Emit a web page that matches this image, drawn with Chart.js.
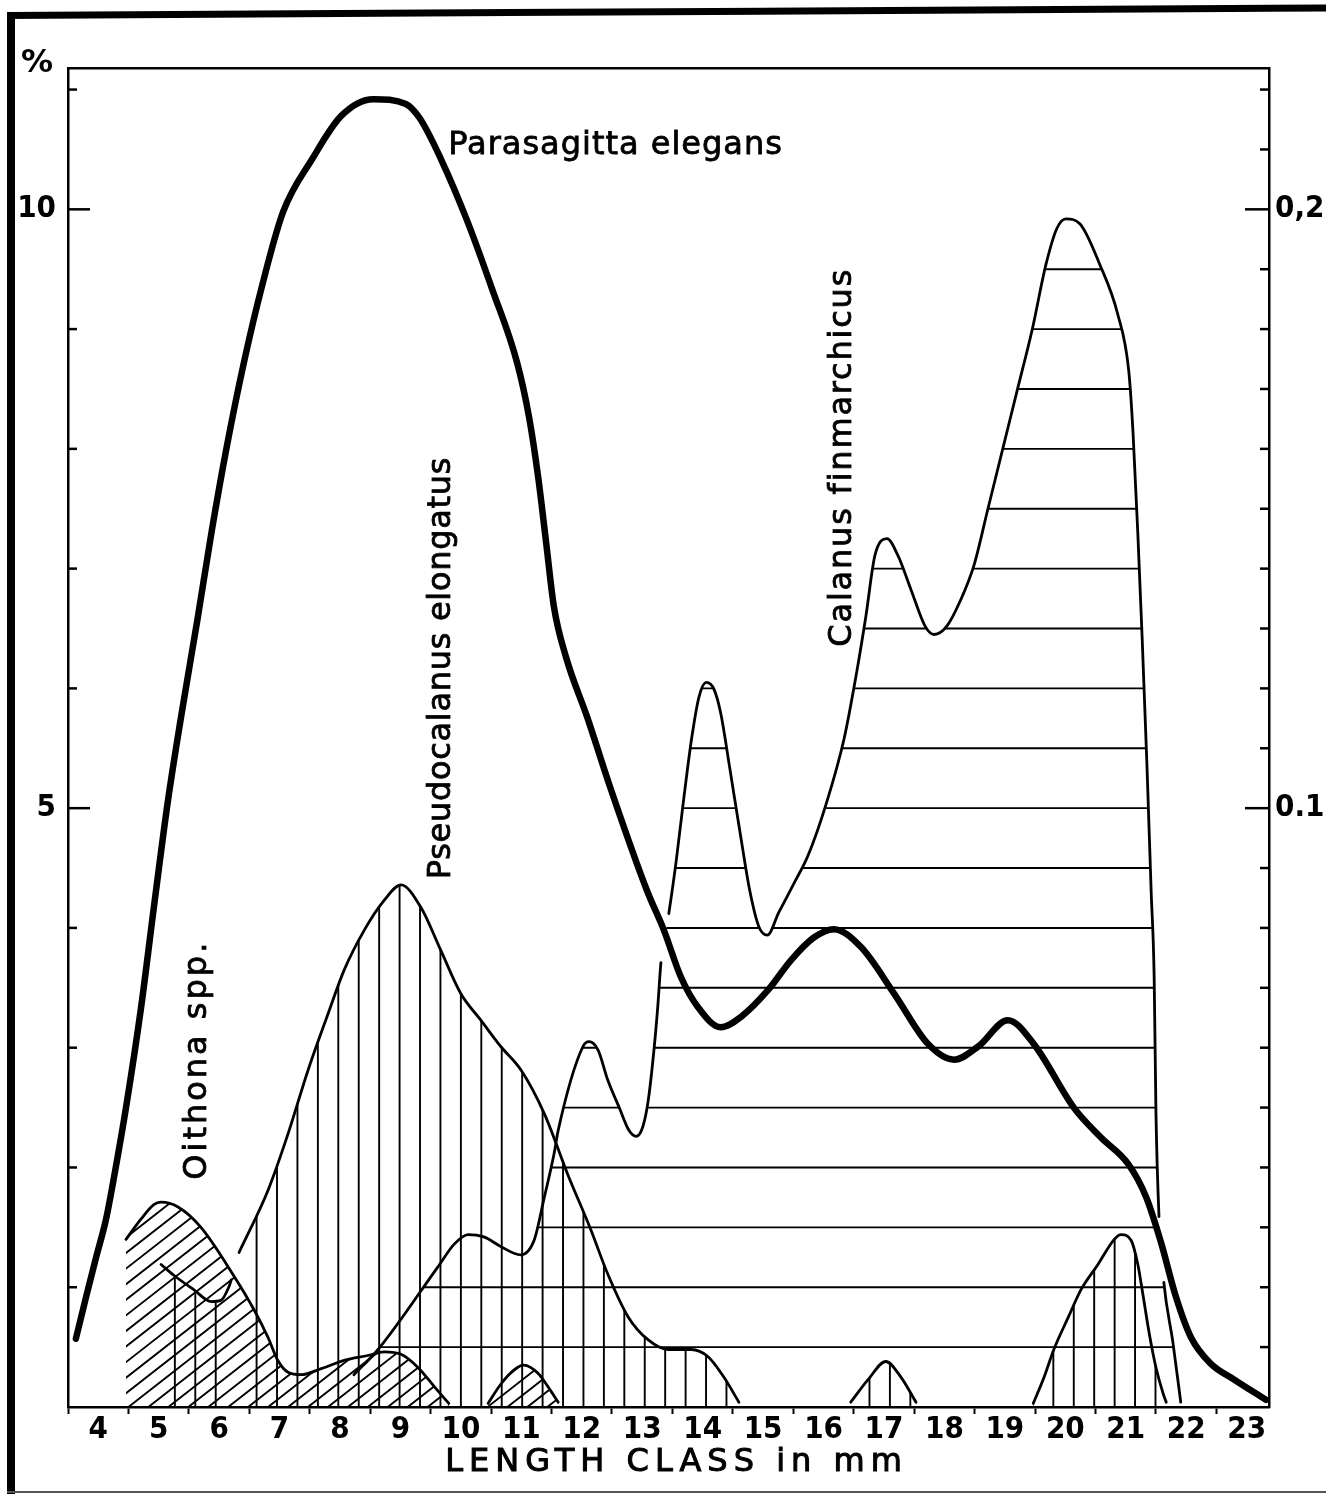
<!DOCTYPE html>
<html><head><meta charset="utf-8">
<script src="https://cdn.jsdelivr.net/npm/chart.js@4.4.1/dist/chart.umd.min.js"></script>
<style>
html,body{margin:0;padding:0;background:#fff;}
#wrap{position:relative;width:1326px;height:1495px;overflow:hidden;background:#fff;}
#c{position:absolute;left:0;top:0;}
.bl{position:absolute;background:#000;}
</style></head><body>
<div id="wrap">
<div class="bl" style="left:7px;top:12px;width:8px;height:1482px;"></div>
<div class="bl" style="left:7px;top:12px;width:1340px;height:7px;transform-origin:0 50%;transform:rotate(-0.33deg);"></div>
<div class="bl" style="left:7px;top:1491px;width:1340px;height:2px;background:#555;"></div>
<canvas id="c" width="1326" height="1495"></canvas>
</div>
<script>
// ---------- tick labels / categories ----------
const lengthClasses = [4,5,6,7,8,9,10,11,12,13,14,15,16,17,18,19,20,21,22,23];
const leftLabelValues = [5, 10];
const rightLabelValues = [0.1, 0.2];
const rightLabelTexts = ['0.1', '0,2'];
const axisTitle = 'LENGTH CLASS in mm';
const unitLabel = '%';
const speciesNames = ['Parasagitta elegans', 'Calanus finmarchicus', 'Pseudocalanus elongatus', 'Oithona spp.'];

// ---------- series (left axis, %) ----------
const parasagittaX = [3.63,3.80,3.96,4.13,4.29,4.46,4.71,4.92,5.15,5.37,5.64,5.88,6.12,6.41,6.71,7.06,7.54,8.02,8.55,9.09,9.32,9.67,10.10,10.52,10.93,11.13,11.28,11.41,11.54,11.74,12.09,12.48,13.08,13.36,13.64,13.92,14.30,14.64,15.08,15.46,15.84,16.17,16.62,17.17,17.73,18.16,18.56,19.05,19.48,20.14,20.59,21.04,21.34,21.58,21.83,22.08,22.41,22.79,23.32];
const parasagittaY = [0.57,0.92,1.24,1.57,2.00,2.50,3.34,4.17,5.05,5.76,6.57,7.32,8.00,8.72,9.36,9.98,10.42,10.78,10.92,10.88,10.76,10.42,9.91,9.33,8.72,8.26,7.76,7.22,6.68,6.26,5.76,5.16,4.31,3.98,3.59,3.34,3.17,3.26,3.48,3.73,3.92,3.99,3.84,3.45,3.03,2.90,3.01,3.23,3.03,2.50,2.25,2.03,1.75,1.38,0.92,0.58,0.36,0.23,0.06];

// Calanus finmarchicus (right axis)
const calanusX = [8.23,8.63,9.62,9.89,10.12,10.38,10.66,10.99,11.21,11.38,11.54,11.61,12.02,12.12,12.27,12.43,12.62,12.78,12.90,13.01,13.10,13.20,13.26,13.31,
  13.44,13.56,13.69,13.82,13.94,14.06,14.19,14.30,14.45,14.64,14.78,14.93,15.07,15.26,15.53,15.74,16.04,16.34,16.55,16.70,16.85,17.05,17.23,17.45,17.68,17.83,18.04,18.27,18.49,18.72,18.97,19.20,19.45,19.68,19.86,20.01,20.24,20.57,20.87,21.05,21.12,21.20,21.27,21.35,21.42,21.47,21.50,21.55,
  21.63,21.78,21.91];
const calanusY = [0.0054,0.0096,0.0234,0.0272,0.0288,0.0284,0.0268,0.0254,0.0278,0.0350,0.0422,0.0462,0.0602,0.0610,0.0596,0.0546,0.0500,0.0462,0.0452,0.0468,0.0512,0.0602,0.0672,0.0742,
  0.0824,0.0910,0.1018,0.1118,0.1186,0.1210,0.1198,0.1158,0.1066,0.0946,0.0862,0.0802,0.0788,0.0826,0.0878,0.0920,0.1006,0.1116,0.1228,0.1320,0.1422,0.1450,0.1422,0.1364,0.1304,0.1290,0.1304,0.1348,0.1406,0.1500,0.1602,0.1696,0.1798,0.1908,0.1968,0.1984,0.1976,0.1908,0.1824,0.1730,0.1628,0.1458,0.1288,0.1074,0.0862,0.0718,0.0490,0.0318,
  0.0208,0.0108,0.0008];
const calanusGapAfterX = [13.31, 21.55];

// Pseudocalanus elongatus
const pseudoMainX = [6.33,6.81,7.14,7.47,7.80,8.07,8.40,8.73,9.01,9.34,9.67,10.00,10.33,10.66,11.00,11.38,11.77,12.15,12.43,12.77,13.10,13.43,13.81,14.09,14.35,14.60];
const pseudoMainY = [1.29,1.81,2.28,2.81,3.28,3.65,3.98,4.23,4.36,4.17,3.81,3.45,3.23,3.01,2.81,2.45,1.94,1.48,1.11,0.75,0.56,0.48,0.48,0.42,0.25,0.04];
const pseudoLeftX = [5.04,5.25,5.58,5.87,6.03,6.16,6.20];
const pseudoLeftY = [1.19,1.10,0.98,0.88,0.89,1.00,1.06];
const pseudo17X = [16.45,16.74,17.03,17.28,17.53];
const pseudo17Y = [0.04,0.23,0.38,0.25,0.04];
const pseudo21X = [19.47,19.65,19.81,20.05,20.26,20.54,20.81,20.92,21.09,21.20,21.29,21.39,21.50,21.62,21.67];
const pseudo21Y = [0.03,0.25,0.48,0.75,0.98,1.19,1.40,1.44,1.39,1.19,0.92,0.61,0.33,0.11,0.04];

// Oithona spp.
const oithonaMainX = [4.46,4.71,4.92,5.04,5.32,5.70,6.25,6.58,6.81,6.97,7.14,7.36,7.69,8.07,8.46,8.73,9.01,9.29,9.56,9.80];
const oithonaMainY = [1.40,1.57,1.69,1.71,1.67,1.50,1.09,0.81,0.58,0.39,0.29,0.27,0.32,0.39,0.43,0.46,0.44,0.33,0.17,0.03];
const oithona11X = [10.45,10.66,10.88,11.04,11.28,11.44,11.61];
const oithona11Y = [0.03,0.19,0.31,0.35,0.28,0.17,0.04];

// ---------- layout / style constants ----------
const X_MIN = 3.5, X_MAX = 23.37;
const Y_MAX = 11.18, Y2_MAX = Y_MAX / 50;
const FONT = "'DejaVu Sans', sans-serif";
const TICK_FONT = "'DejaVu Sans Condensed', 'DejaVu Sans', sans-serif";
const HATCH = {
  h: {step: 0.01},
  v: {phase: 10, step: 0.338},
  d: {phase: 4.5, step: 0.33, angle: 38}
};
const labelPlacement = [
  {x: 9.79, y: 10.53, rot: 0, align: 'left', spacing: 1},
  {x: 16.32, y: 7.93, rot: -90, align: 'center', spacing: 1.8},
  {x: 9.69, y: 6.17, rot: -90, align: 'center', spacing: 0.7},
  {x: 5.65, y: 2.90, rot: -90, align: 'center', spacing: 3}
];

const pts = (xs, ys) => xs.map((x, i) => ({x, y: ys[i]}));
const thin = {borderColor: '#000', borderWidth: 2.8, pointRadius: 0, fill: false, cubicInterpolationMode: 'monotone', borderJoinStyle: 'round', borderCapStyle: 'round'};

const datasets = [
  {label: speciesNames[0], data: pts(parasagittaX, parasagittaY), yAxisID: 'y', borderColor: '#000', borderWidth: 6.5, pointRadius: 0, fill: false, cubicInterpolationMode: 'monotone', borderJoinStyle: 'round', borderCapStyle: 'round'},
  Object.assign({label: speciesNames[1], data: pts(calanusX, calanusY), yAxisID: 'y2', hatch: 'h',
    segment: {borderColor: c => calanusGapAfterX.includes(calanusX[c.p0DataIndex]) ? 'rgba(0,0,0,0)' : '#000'}}, thin),
  Object.assign({label: speciesNames[2], data: pts(pseudoMainX, pseudoMainY), yAxisID: 'y', hatch: 'v'}, thin),
  Object.assign({label: speciesNames[2], data: pts(pseudoLeftX, pseudoLeftY), yAxisID: 'y', hatch: 'v'}, thin),
  Object.assign({label: speciesNames[2], data: pts(pseudo17X, pseudo17Y), yAxisID: 'y', hatch: 'v'}, thin),
  Object.assign({label: speciesNames[2], data: pts(pseudo21X, pseudo21Y), yAxisID: 'y', hatch: 'v'}, thin),
  Object.assign({label: speciesNames[3], data: pts(oithonaMainX, oithonaMainY), yAxisID: 'y', hatch: 'd'}, thin),
  Object.assign({label: speciesNames[3], data: pts(oithona11X, oithona11Y), yAxisID: 'y', hatch: 'd'}, thin)
];

// hatching under curves, clipped to each curve's area
const hatchPlugin = {
  id: 'hatch',
  beforeDatasetsDraw(chart) {
    const ctx = chart.ctx, a = chart.chartArea, xs = chart.scales.x;
    chart.data.datasets.forEach((ds, i) => {
      if (!ds.hatch) return;
      const meta = chart.getDatasetMeta(i);
      const line = meta.dataset;
      line.updateControlPoints(a, 'x');
      const p = meta.data;
      const ys = chart.scales[ds.yAxisID];
      const base = ys.getPixelForValue(0);
      ctx.save();
      ctx.beginPath();
      ctx.rect(a.left, a.top, a.right - a.left, a.bottom - a.top);
      ctx.clip();
      ctx.beginPath();
      ctx.moveTo(p[0].x, base);
      ctx.lineTo(p[0].x, p[0].y);
      for (let k = 1; k < p.length; k++) {
        const q0 = p[k - 1], q1 = p[k];
        ctx.bezierCurveTo(q0.cp2x ?? q0.x, q0.cp2y ?? q0.y, q1.cp1x ?? q1.x, q1.cp1y ?? q1.y, q1.x, q1.y);
      }
      ctx.lineTo(p[p.length - 1].x, base);
      ctx.closePath();
      ctx.clip();
      ctx.strokeStyle = '#000';
      ctx.lineWidth = 1.9;
      ctx.beginPath();
      if (ds.hatch === 'h') {
        const st = HATCH.h.step;
        for (let k = 1; k * st < ys.max; k++) {
          const y = ys.getPixelForValue(k * st);
          ctx.moveTo(a.left, y); ctx.lineTo(a.right, y);
        }
      } else if (ds.hatch === 'v') {
        const {phase, step} = HATCH.v;
        for (let k = -40; k < 60; k++) {
          const v = phase + k * step;
          if (v < xs.min || v > xs.max) continue;
          const x = xs.getPixelForValue(v);
          ctx.moveTo(x, a.top); ctx.lineTo(x, a.bottom);
        }
      } else {
        const {phase, step, angle} = HATCH.d;
        const r = angle * Math.PI / 180, L = 600;
        for (let k = -60; k < 80; k++) {
          const x = xs.getPixelForValue(phase + k * step);
          ctx.moveTo(x, base); ctx.lineTo(x + L * Math.cos(r), base - L * Math.sin(r));
        }
      }
      ctx.stroke();
      ctx.restore();
    });
  }
};

// inward tick marks on the two vertical axes
const inwardTicks = {
  id: 'inwardTicks',
  afterDatasetsDraw(chart) {
    const {ctx, chartArea: a, scales} = chart;
    ctx.save();
    ctx.strokeStyle = '#000'; ctx.lineWidth = 2.5;
    scales.y.ticks.forEach(t => {
      if (t.value <= 0) return;
      const py = scales.y.getPixelForValue(t.value);
      const len = leftLabelValues.includes(t.value) ? 22 : 9;
      ctx.beginPath(); ctx.moveTo(a.left, py); ctx.lineTo(a.left + len, py); ctx.stroke();
    });
    scales.y2.ticks.forEach(t => {
      const h = Math.round(t.value * 100);
      if (h <= 0) return;
      const py = scales.y2.getPixelForValue(t.value);
      const len = rightLabelValues.some(v => Math.round(v * 100) === h) ? 24 : 9;
      ctx.beginPath(); ctx.moveTo(a.right, py); ctx.lineTo(a.right - len, py); ctx.stroke();
    });
    ctx.restore();
  }
};

// species names, unit and axis title
const textPlugin = {
  id: 'texts',
  afterDraw(chart) {
    const {ctx, chartArea: a, scales} = chart;
    ctx.save();
    ctx.fillStyle = '#000';
    ctx.strokeStyle = '#000';
    ctx.lineWidth = 0.8;
    ctx.textBaseline = 'middle';
    ctx.font = `32px ${FONT}`;
    speciesNames.forEach((name, i) => {
      const pl = labelPlacement[i];
      const px = scales.x.getPixelForValue(pl.x), py = scales.y.getPixelForValue(pl.y);
      ctx.save();
      ctx.letterSpacing = pl.spacing + 'px';
      ctx.translate(px, py);
      ctx.rotate(pl.rot * Math.PI / 180);
      ctx.textAlign = pl.align;
      ctx.fillText(name, 0, 0);
      ctx.strokeText(name, 0, 0);
      ctx.restore();
    });
    ctx.letterSpacing = '6px';
    ctx.textAlign = 'center';
    ctx.lineWidth = 1;
    const tx = (a.left + a.right) / 2 + 8, ty = a.bottom + 56;
    ctx.fillText(axisTitle, tx, ty);
    ctx.strokeText(axisTitle, tx, ty);
    ctx.letterSpacing = '0px';
    ctx.font = `bold 32px ${FONT}`;
    ctx.fillText(unitLabel, a.left - 31, a.top - 4);
    ctx.restore();
  }
};

new Chart(document.getElementById('c'), {
  type: 'line',
  data: {datasets},
  options: {
    responsive: false, animation: false, events: [],
    layout: {padding: {top: 68, left: 0, right: 0, bottom: 0}},
    plugins: {legend: {display: false}, tooltip: {enabled: false}, title: {display: false}},
    scales: {
      x: {
        type: 'linear', position: 'bottom', min: X_MIN, max: X_MAX,
        afterFit(s) { s.height = 88; },
        ticks: {stepSize: 0.5, includeBounds: false, autoSkip: false, maxRotation: 0, minRotation: 0, padding: 0, color: '#000',
          font: {family: TICK_FONT, size: 31, weight: 'bold', lineHeight: 1},
          callback: v => lengthClasses.includes(v) ? String(v) : ''},
        grid: {display: true, drawOnChartArea: false, drawTicks: true, tickLength: 7, tickWidth: 2, color: '#000',
          tickColor: c => (c.tick && Number.isInteger(c.tick.value)) ? 'rgba(0,0,0,0)' : '#000'},
        border: {display: true, color: '#000', width: 2.5}
      },
      xTop: {
        type: 'linear', position: 'top', min: 0, max: 1,
        afterFit(s) { s.height = 0; },
        ticks: {display: false}, grid: {display: false, drawTicks: false},
        border: {display: true, color: '#000', width: 2.5}
      },
      y: {
        type: 'linear', position: 'left', min: 0, max: Y_MAX,
        afterFit(s) { s.width = 68; },
        ticks: {stepSize: 1, includeBounds: false, autoSkip: false, padding: 12, color: '#000',
          font: {family: TICK_FONT, size: 31, weight: 'bold'},
          callback: v => leftLabelValues.includes(v) ? String(v) : ''},
        grid: {display: false, drawTicks: false},
        border: {display: true, color: '#000', width: 2.5}
      },
      y2: {
        type: 'linear', position: 'right', min: 0, max: Y2_MAX,
        afterFit(s) { s.width = 57; },
        ticks: {stepSize: 0.01, includeBounds: false, autoSkip: false, padding: 6, color: '#000',
          font: {family: TICK_FONT, size: 31, weight: 'bold'},
          callback: v => {
            const i = rightLabelValues.findIndex(r => Math.round(r * 100) === Math.round(v * 100));
            return i >= 0 ? rightLabelTexts[i] : '';
          }},
        grid: {display: false, drawTicks: false},
        border: {display: true, color: '#000', width: 2.5}
      }
    }
  },
  plugins: [hatchPlugin, inwardTicks, textPlugin]
});
</script>
</body></html>
